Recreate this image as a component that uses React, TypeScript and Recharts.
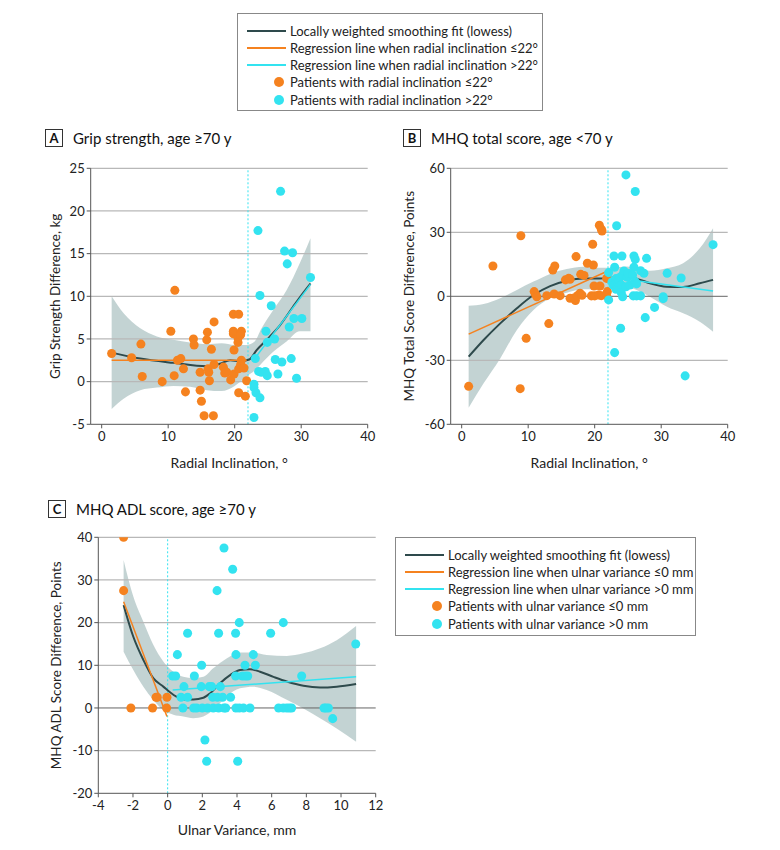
import React from 'react';
import {
  ComposedChart,
  Scatter,
  Line,
  Area,
  XAxis,
  YAxis,
  ReferenceLine,
  Label,
} from 'recharts';

const ORANGE = '#F5821F';
const CYAN = '#33E3F0';
const LOWESS = '#2E4A4C';
const BAND = '#BCCECE';
const GRID = '#b8b8b8';
const FONT = "Lato, sans-serif";

// Panel A: grip strength, age >=70 y
const gripOrange: [number, number][] = [
  [1.5, 3.3], [4.5, 2.8], [5.9, 4.4], [6.1, 0.6], [9.1, 0.0], [10.4, 5.9], [11.0, 10.7],
  [10.9, 0.7], [11.4, 2.5], [11.9, 2.7], [12.3, 1.5], [12.6, -1.2], [13.8, 5.0], [13.9, 4.3],
  [14.8, -1.0], [14.8, 1.1], [15.0, -2.3], [15.4, -4.0], [15.8, 4.9], [15.9, 5.8], [16.0, 1.5],
  [16.1, 1.1], [16.2, 0.1], [16.5, 3.8], [16.8, -4.0], [16.9, 7.0], [16.9, 2.0], [18.3, 1.7],
  [18.5, 1.0], [18.8, 1.1], [19.4, 0.2], [19.8, 7.9], [19.8, 5.6], [19.8, 5.9], [19.9, 3.7],
  [19.9, 0.9], [20.5, 5.1], [20.5, 4.6], [20.6, 7.9], [20.6, 1.5], [20.6, -1.3], [20.9, 2.0],
  [21.0, 5.9], [20.9, 5.5], [21.0, 2.5], [21.4, 1.6], [21.6, -1.7], [21.8, 0.1],
];
const gripCyan: [number, number][] = [
  [22.9, -4.2], [22.9, -0.3], [22.9, -0.7], [23.1, 2.7], [23.2, -1.3], [23.5, 17.7], [23.6, 1.2],
  [23.8, 10.1], [23.8, -1.9], [24.0, 1.1], [24.6, 1.2], [24.7, 5.9], [24.9, 4.6], [24.9, 0.7],
  [25.5, 8.9], [26.0, 5.0], [26.1, 2.6], [26.5, 0.9], [26.9, 22.3], [27.1, 2.3], [27.5, 15.3],
  [27.9, 13.8], [28.2, 6.4], [28.5, 2.7], [28.7, 15.1], [28.9, 7.4], [29.3, 0.4], [30.1, 7.4],
  [31.4, 12.2],
];
const gripLowessX = [1.5, 5.8, 10.8, 15.8, 17.8, 19.3, 20.8, 22.2, 23.3, 24.8, 26.8, 28.8, 30.3, 31.4];
const gripLowessY = [3.4, 2.7, 2.2, 1.8, 2.1, 2.5, 2.4, 2.6, 3.7, 4.9, 6.6, 8.8, 10.4, 11.5];
const gripBandX = [1.5, 3.3, 5.8, 8.3, 10.8, 13.3, 15.8, 18.0, 20.0, 21.8, 23.0, 24.0, 25.8, 27.8, 29.8, 31.4];
const gripBandHi = [10.0, 8.0, 6.25, 5.3, 4.9, 4.6, 4.4, 4.5, 4.3, 4.3, 4.7, 6.2, 8.4, 10.7, 13.9, 16.8];
const gripBandLo = [-3.2, -2.0, -1.0, -0.7, -0.5, -0.6, -1.0, -1.1, -0.5, 0.6, 1.3, 2.1, 3.5, 4.7, 5.9, 5.9];
const gripRegLow: [number, number][] = [[1.5, 2.5], [21.8, 2.5]];
const gripRegHigh: [number, number][] = [[22.9, 2.6], [31.4, 11.4]];

// Panel B: MHQ total score, age <70 y
const mhqOrange: [number, number][] = [
  [1.05, -42.2], [4.7, 14.2], [8.9, 28.4], [8.8, -43.3], [9.7, -19.7], [10.9, 2.2], [11.1, 0.9],
  [11.3, -0.2], [12.8, 0.3], [13.1, -12.8], [13.7, 12.3], [14.0, 14.2], [13.9, 1.1], [14.8, 0.3],
  [15.6, 7.7], [16.1, 8.4], [16.3, 8.0], [16.3, -0.9], [16.9, -0.8], [17.2, 18.6], [17.1, -2.0],
  [17.4, 0.3], [17.8, 1.4], [18.1, 0.5], [17.9, 10.3], [18.4, 9.8], [18.9, 15.5], [19.5, 0.2],
  [19.7, 24.4], [19.8, 14.7], [19.9, 4.8], [20.0, 0.2], [20.6, 0.6], [20.7, 33.3], [20.8, 4.8],
  [21.0, 31.4], [21.1, 30.6], [21.0, 0.3], [21.8, 8.4], [21.8, 0.2], [21.9, 2.2],
];
const mhqCyan: [number, number][] = [
  [22.1, -1.7], [22.1, 11.1], [22.6, 6.7], [22.8, 5.2], [22.9, 18.9], [23.0, 13.6], [23.0, -26.4],
  [23.2, 3.3], [23.2, 8.3], [23.3, 33.1], [23.4, 6.7], [23.6, 7.7], [23.8, 8.9], [23.9, -15.0],
  [24.0, 5.3], [24.0, 1.7], [24.1, 18.9], [24.2, -0.2], [24.2, 10.0], [24.4, 11.9], [24.7, 56.9],
  [24.7, 4.5], [24.9, 8.9], [25.0, 10.8], [25.3, 5.3], [25.7, 10.0], [25.8, 0.2], [25.9, 18.9],
  [25.9, 13.6], [26.1, 49.1], [26.1, 17.3], [26.1, 6.9], [26.3, 5.8], [26.3, 0.2], [26.9, 0.2],
  [26.9, 12.0], [27.4, 10.8], [27.6, -10.0], [27.8, 17.8], [29.0, -5.2], [30.3, -0.2], [30.3, -1.1],
  [30.9, 10.8], [33.0, 8.6], [33.6, -37.3], [37.8, 24.2],
];
const mhqLowessX = [1.05, 3.3, 5.8, 8.3, 10.8, 13.3, 15.8, 18.3, 20.8, 22.8, 24.8, 26.3, 28.3, 30.8, 33.3, 35.8, 37.8];
const mhqLowessY = [-28.3, -20.5, -12.7, -5.6, 0.6, 4.8, 7.3, 8.4, 8.4, 8.8, 9.2, 8.3, 6.1, 4.5, 4.4, 6.1, 7.7];
const mhqBandHi = [-4.4, -3.6, -0.9, 3.0, 6.9, 10.5, 12.8, 13.9, 13.4, 13.5, 14.0, 13.3, 12.0, 13.1, 15.5, 22.5, 31.9];
const mhqBandLo = [-52.2, -40.8, -29.1, -15.8, -6.4, -0.9, 1.7, 3.3, 3.3, 3.8, 4.2, 3.0, -0.2, -4.8, -8.0, -11.9, -16.6];
const mhqRegLow: [number, number][] = [[1.05, -17.7], [21.8, 11.6]];
const mhqRegHigh: [number, number][] = [[21.9, 9.2], [37.8, 2.5]];

// Panel C: MHQ ADL score, age >=70 y
const adlOrange: [number, number][] = [
  [-2.54, 40], [-2.54, 27.5], [-2.12, 0], [-0.87, 0], [-0.67, 2.5], [-0.6, 2.5], [-0.06, 0],
  [-0.04, 2.5],
];
const adlCyan: [number, number][] = [
  [0.29, 7.5], [0.46, 7.5], [0.56, 12.5], [0.77, 2.5], [0.88, 0], [0.94, 5], [1.15, 2.5],
  [1.15, 17.5], [1.54, 7.5], [1.5, 0], [1.67, 0], [1.94, 5], [1.96, 10], [2.0, 0], [2.15, -7.5],
  [2.25, -12.5], [2.3, 0], [2.4, 5], [2.54, 5], [2.6, 2.5], [2.63, 0], [2.85, 27.5], [2.87, 2.5],
  [2.94, 17.5], [2.94, 0], [3.04, 5], [3.17, 2.5], [3.25, 37.5], [3.25, 0], [3.35, 0], [3.63, 2.5],
  [3.75, 32.5], [3.92, 17.5], [3.94, 12.5], [3.92, 7.5], [3.94, 0], [4.04, -12.5], [4.13, 20],
  [4.13, 0], [4.31, 7.5], [4.37, 0], [4.46, 10], [4.48, 7.5], [4.62, 7.5], [4.75, 0], [4.94, 12.5],
  [5.06, 10], [5.94, 17.5], [6.4, 0], [6.67, 0], [6.67, 20], [6.87, 0], [7.02, 0], [7.15, 0],
  [7.73, 7.5], [9.02, 0], [9.13, 0], [9.27, 0], [9.52, -2.5], [10.85, 15],
];
const adlLowessX = [-2.54, -1.98, -1.4, -0.83, -0.25, 0.33, 0.9, 1.48, 2.06, 2.44, 3.02, 3.6, 4.17, 4.75, 5.33, 6.1, 6.87, 7.83, 8.79, 9.75, 10.87];
const adlLowessY = [24.1, 16.7, 11.25, 7.0, 5.0, 3.1, 2.0, 2.0, 2.4, 3.4, 5.8, 7.7, 8.9, 9.1, 8.5, 7.3, 6.2, 5.2, 4.8, 5.0, 5.6];
const adlBandX = [-2.54, -1.98, -1.4, -0.83, -0.25, 0.33, 0.9, 1.48, 2.06, 2.63, 3.4, 4.17, 4.94, 5.71, 6.87, 7.83, 8.79, 9.75, 10.87];
const adlBandHi = [34.7, 26.1, 20.2, 14.8, 10.9, 8.5, 7.3, 7.0, 7.3, 9.3, 11.6, 13.0, 13.0, 12.4, 12.2, 12.8, 14.0, 15.9, 19.2];
const adlBandLo = [13.2, 8.9, 5.0, 1.9, -0.5, -1.6, -2.0, -2.4, -2.0, -0.5, 2.7, 4.6, 5.0, 4.2, 1.9, -0.1, -2.4, -4.8, -7.9];
const adlRegLow: [number, number][] = [[-2.54, 24.9], [-0.04, -2.0]];
const adlRegHigh: [number, number][] = [[0.29, 4.2], [10.87, 7.3]];

const radialTicks = [0, 10, 20, 30, 40];
const gripTicks = [-5, 0, 5, 10, 15, 20, 25];
const mhqTicks = [-60, -30, 0, 30, 60];
const ulnarTicks = [-4, -2, 0, 2, 4, 6, 8, 10, 12];
const adlTicks = [-20, -10, 0, 10, 20, 30, 40];

const toPts = (arr: [number, number][]) => arr.map(([x, y]) => ({ x, y }));
const toLine = (xs: number[], ys: number[]) => xs.map((x, i) => ({ x, y: ys[i] }));
const toBand = (xs: number[], lo: number[], hi: number[]) =>
  xs.map((x, i) => ({ x, range: [lo[i], hi[i]] }));

interface PanelProps {
  left: number;
  top: number;
  width: number;
  height: number;
  margin: { top: number; right: number; bottom: number; left: number };
  yWidth: number;
  xHeight: number;
  xDomain: [number, number];
  xTicks: number[];
  yDomain: [number, number];
  yTicks: number[];
  xLabel: string;
  yLabel: string;
  xLabelDy: number;
  yLabelDx: number;
  cut: number;
  zeroLine: boolean;
  band: any[];
  lowess: any[];
  regLow: any[];
  regHigh: any[];
  ptsLow: any[];
  ptsHigh: any[];
}

function Panel(p: PanelProps) {
  const tickStyle = { fill: '#222', fontSize: 13, fontFamily: FONT };
  // light grid lines at every y tick above the bottom axis (zero drawn darker where needed)
  const gridTicks = p.yTicks.filter((t) => t !== p.yDomain[0] && !(p.zeroLine && t === 0));
  return (
    <div style={{ position: 'absolute', left: p.left, top: p.top }}>
      <ComposedChart width={p.width} height={p.height} margin={p.margin}>
        <XAxis
          type="number"
          dataKey="x"
          domain={p.xDomain}
          ticks={p.xTicks}
          interval={0}
          allowDataOverflow
          height={p.xHeight}
          tickSize={4}
          tickMargin={3}
          stroke="#555"
          tick={tickStyle}
        >
          <Label
            value={p.xLabel}
            position="center"
            dy={p.xLabelDy}
            fill="#222"
            fontSize={14}
            fontFamily={FONT}
          />
        </XAxis>
        <YAxis
          type="number"
          dataKey="y"
          domain={p.yDomain}
          ticks={p.yTicks}
          interval={0}
          allowDataOverflow
          width={p.yWidth}
          tickSize={4}
          tickMargin={2}
          stroke="#555"
          tick={tickStyle}
        >
          <Label
            value={p.yLabel}
            position="center"
            angle={-90}
            dx={p.yLabelDx}
            fill="#222"
            fontSize={13.5}
            fontFamily={FONT}
          />
        </YAxis>
        {gridTicks.map((t) => (
          <ReferenceLine key={'g' + t} y={t} stroke={GRID} strokeWidth={1.2} />
        ))}
        <Area
          data={p.band}
          dataKey="range"
          type="monotone"
          stroke="none"
          fill={BAND}
          fillOpacity={0.9}
          isAnimationActive={false}
        />
        {p.zeroLine && <ReferenceLine y={0} stroke="#666" />}
        <ReferenceLine x={p.cut} stroke={CYAN} strokeDasharray="2 2" />
        <Scatter data={p.ptsLow} fill={ORANGE} isAnimationActive={false} />
        <Scatter data={p.ptsHigh} fill={CYAN} isAnimationActive={false} />
        <Line
          data={p.lowess}
          dataKey="y"
          type="monotone"
          stroke={LOWESS}
          strokeWidth={2}
          dot={false}
          activeDot={false}
          isAnimationActive={false}
        />
        <Line
          data={p.regLow}
          dataKey="y"
          type="linear"
          stroke={ORANGE}
          strokeWidth={1.5}
          dot={false}
          activeDot={false}
          isAnimationActive={false}
        />
        <Line
          data={p.regHigh}
          dataKey="y"
          type="linear"
          stroke={CYAN}
          strokeWidth={1.5}
          dot={false}
          activeDot={false}
          isAnimationActive={false}
        />
      </ComposedChart>
    </div>
  );
}

function PanelTitle({ left, top, letter, text }: { left: number; top: number; letter: string; text: string }) {
  return (
    <div style={{ position: 'absolute', left, top, display: 'flex', alignItems: 'center' }}>
      <div
        style={{
          width: 16,
          height: 16,
          border: '1px solid #333',
          fontWeight: 'bold',
          fontSize: 13,
          lineHeight: '16px',
          textAlign: 'center',
          color: '#111',
        }}
      >
        {letter}
      </div>
      <div style={{ marginLeft: 10, fontSize: 15, color: '#111' }}>{text}</div>
    </div>
  );
}

interface LegendItem {
  kind: 'line' | 'dot';
  color: string;
  text: string;
}

function LegendBox({ left, top, width, height, items }: { left: number; top: number; width: number; height: number; items: LegendItem[] }) {
  return (
    <div
      style={{
        position: 'absolute',
        left,
        top,
        width,
        height,
        border: '1px solid #888',
        boxSizing: 'border-box',
      }}
    >
      {items.map((it, i) => (
        <div
          key={i}
          style={{ position: 'absolute', left: 0, top: 8 + i * 17.3, height: 17, width: width - 2, display: 'flex', alignItems: 'center' }}
        >
          <div style={{ width: 52, display: 'flex', justifyContent: it.kind === 'line' ? 'flex-start' : 'flex-end', paddingLeft: it.kind === 'line' ? 9 : 0, paddingRight: it.kind === 'dot' ? 6 : 0, boxSizing: 'border-box' }}>
            {it.kind === 'line' ? (
              <div style={{ width: 39, height: 2, background: it.color }} />
            ) : (
              <div style={{ width: 10, height: 10, borderRadius: 5, background: it.color }} />
            )}
          </div>
          <div style={{ fontSize: 13, color: '#222', whiteSpace: 'nowrap' }}>{it.text}</div>
        </div>
      ))}
    </div>
  );
}

const radialLegend: LegendItem[] = [
  { kind: 'line', color: LOWESS, text: 'Locally weighted smoothing fit (lowess)' },
  { kind: 'line', color: ORANGE, text: 'Regression line when radial inclination ≤22°' },
  { kind: 'line', color: CYAN, text: 'Regression line when radial inclination >22°' },
  { kind: 'dot', color: ORANGE, text: 'Patients with radial inclination ≤22°' },
  { kind: 'dot', color: CYAN, text: 'Patients with radial inclination >22°' },
];

const ulnarLegend: LegendItem[] = [
  { kind: 'line', color: LOWESS, text: 'Locally weighted smoothing fit (lowess)' },
  { kind: 'line', color: ORANGE, text: 'Regression line when ulnar variance ≤0 mm' },
  { kind: 'line', color: CYAN, text: 'Regression line when ulnar variance >0 mm' },
  { kind: 'dot', color: ORANGE, text: 'Patients with ulnar variance ≤0 mm' },
  { kind: 'dot', color: CYAN, text: 'Patients with ulnar variance >0 mm' },
];

export default function App() {
  return (
    <div
      style={{
        position: 'absolute',
        left: 0,
        top: 0,
        width: 780,
        height: 850,
        background: '#fff',
        fontFamily: FONT,
        overflow: 'hidden',
      }}
    >
      <LegendBox left={237} top={13} width={306} height={98} items={radialLegend} />

      <PanelTitle left={45} top={129} letter="A" text="Grip strength, age ≥70 y" />
      <PanelTitle left={403} top={129} letter="B" text="MHQ total score, age <70 y" />
      <PanelTitle left={48} top={500} letter="C" text="MHQ ADL score, age ≥70 y" />

      <Panel
        left={0}
        top={150}
        width={390}
        height={330}
        margin={{ top: 18.3, right: 22.3, bottom: 0, left: 0 }}
        yWidth={90.7}
        xHeight={55.7}
        xDomain={[-1.65, 40]}
        xTicks={radialTicks}
        yDomain={[-5, 25]}
        yTicks={gripTicks}
        xLabel="Radial Inclination, °"
        yLabel="Grip Strength Difference, kg"
        xLabelDy={10.8}
        yLabelDx={9.6}
        cut={22}
        zeroLine={false}
        band={toBand(gripBandX, gripBandLo, gripBandHi)}
        lowess={toLine(gripLowessX, gripLowessY)}
        regLow={toPts(gripRegLow)}
        regHigh={toPts(gripRegHigh)}
        ptsLow={toPts(gripOrange)}
        ptsHigh={toPts(gripCyan)}
      />

      <Panel
        left={360}
        top={150}
        width={390}
        height={330}
        margin={{ top: 18.3, right: 22.3, bottom: 0, left: 0 }}
        yWidth={90.7}
        xHeight={55.7}
        xDomain={[-1.65, 40]}
        xTicks={radialTicks}
        yDomain={[-60, 60]}
        yTicks={mhqTicks}
        xLabel="Radial Inclination, °"
        yLabel="MHQ Total Score Difference, Points"
        xLabelDy={10.8}
        yLabelDx={3.6}
        cut={22}
        zeroLine
        band={toBand(mhqLowessX, mhqBandLo, mhqBandHi)}
        lowess={toLine(mhqLowessX, mhqLowessY)}
        regLow={toPts(mhqRegLow)}
        regHigh={toPts(mhqRegHigh)}
        ptsLow={toPts(mhqOrange)}
        ptsHigh={toPts(mhqCyan)}
      />

      <Panel
        left={0}
        top={510}
        width={400}
        height={330}
        margin={{ top: 27.3, right: 24.3, bottom: 0, left: 0 }}
        yWidth={98.3}
        xHeight={46.7}
        xDomain={[-4, 12]}
        xTicks={ulnarTicks}
        yDomain={[-20, 40]}
        yTicks={adlTicks}
        xLabel="Ulnar Variance, mm"
        yLabel="MHQ ADL Score Difference, Points"
        xLabelDy={13.3}
        yLabelDx={6.9}
        cut={0}
        zeroLine
        band={toBand(adlBandX, adlBandLo, adlBandHi)}
        lowess={toLine(adlLowessX, adlLowessY)}
        regLow={toPts(adlRegLow)}
        regHigh={toPts(adlRegHigh)}
        ptsLow={toPts(adlOrange)}
        ptsHigh={toPts(adlCyan)}
      />

      <LegendBox left={395} top={537} width={301} height={99} items={ulnarLegend} />
    </div>
  );
}
